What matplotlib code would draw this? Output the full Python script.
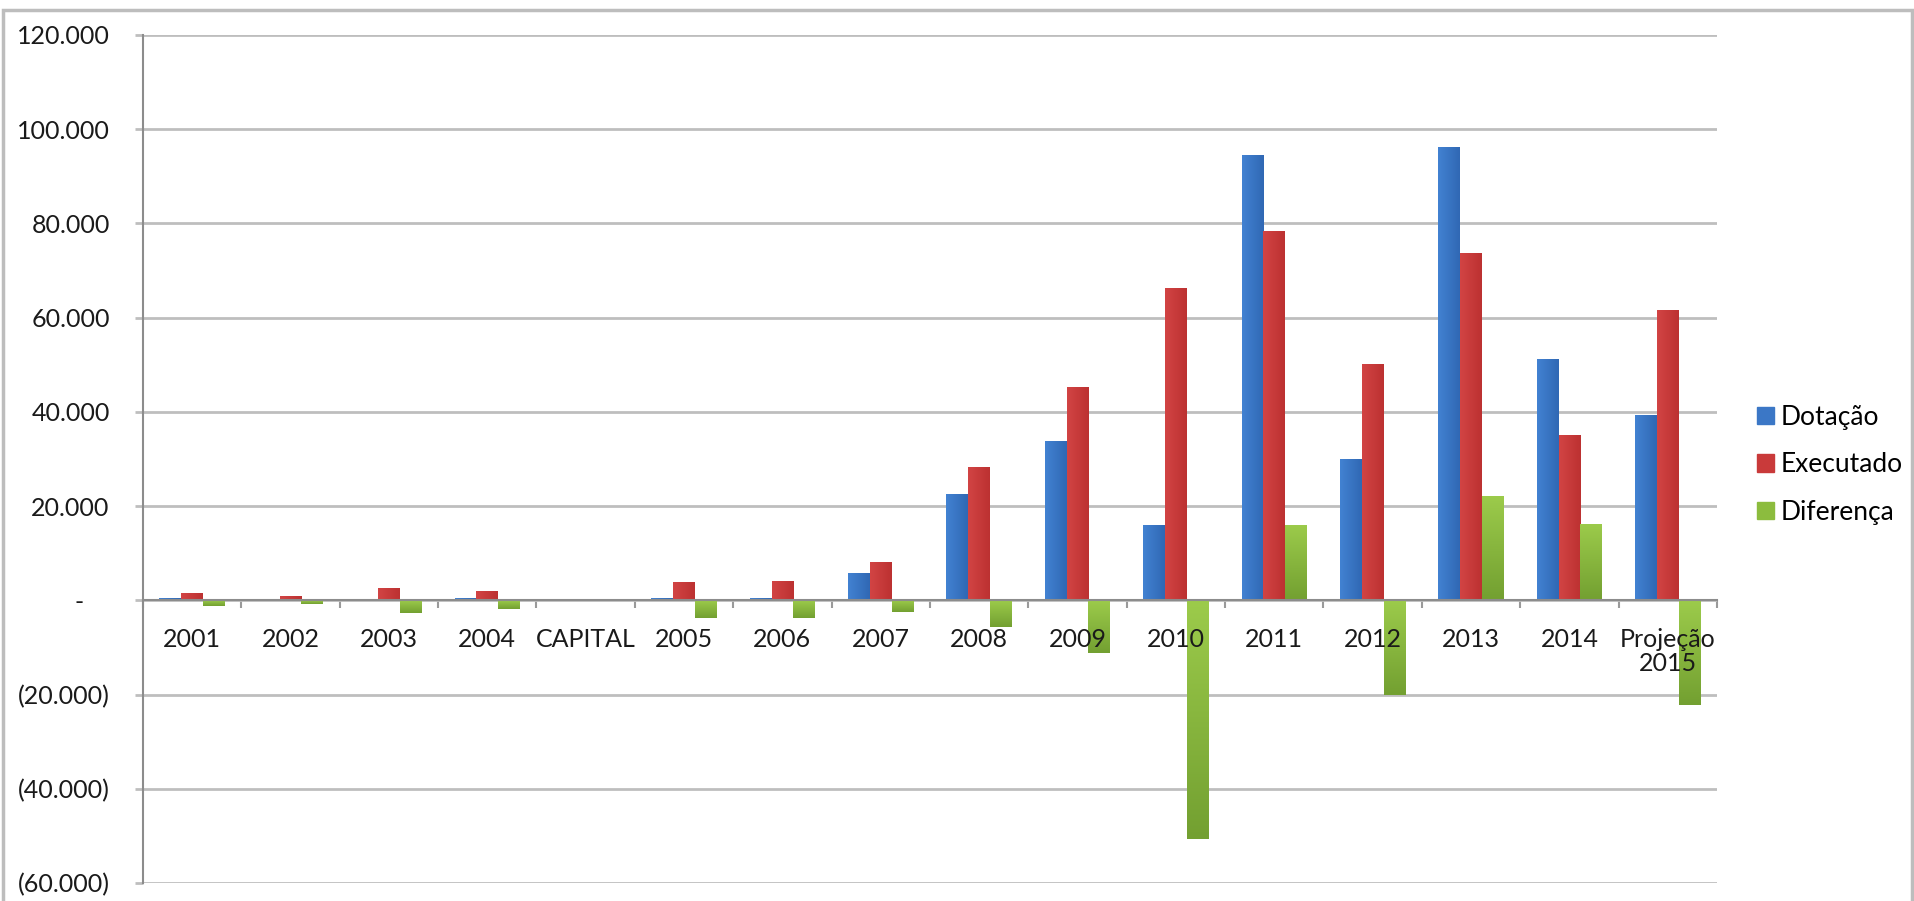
import numpy as np
import matplotlib.pyplot as plt
from matplotlib.patches import Rectangle, Patch
from matplotlib.colors import LinearSegmentedColormap
from matplotlib.transforms import offset_copy

plt.rcParams['font.family'] = ['Lato', 'DejaVu Sans']

categorias = ['2001', '2002', '2003', '2004', 'CAPITAL', '2005', '2006', '2007',
              '2008', '2009', '2010', '2011', '2012', '2013', '2014', 'Projeção\n2015']

dotacao = [400, 300, 300, 400, 0, 500, 600, 5700,
           22650, 33900, 15900, 94500, 30000, 96200, 51300, 39400]
executado = [1600, 1000, 2700, 2000, 0, 3900, 4100, 8200,
             28400, 45300, 66400, 78500, 50100, 73800, 35200, 61700]
diferenca = [-1200, -700, -2600, -1800, 0, -3700, -3700, -2500,
             -5600, -11200, -50600, 16000, -20100, 22200, 16200, -22200]

yticks = [-60000, -40000, -20000, 0, 20000, 40000, 60000, 80000, 100000, 120000]
ylabels = ['(60.000)', '(40.000)', '(20.000)', '-    ', '20.000', '40.000',
           '60.000', '80.000', '100.000', '120.000']

azul = '#3B77C6'
vermelho = '#C93A3A'
verde = '#8CBC3E'

fig = plt.figure(figsize=(19.15, 9.01), dpi=100)
ax = fig.add_axes([143/1915, 1 - 883/901, (1717 - 143)/1915, (883 - 35)/901])

x = np.arange(len(categorias)) + 0.5
w = 0.222
b1 = ax.bar(x - w, dotacao, w, color=azul, zorder=2)
b2 = ax.bar(x, executado, w, color=vermelho, zorder=2)
b3 = ax.bar(x + w, diferenca, w, color=verde, zorder=2)


# degrade leve nas barras, parecido com o estilo do Excel
def degrade(barras, c1, c2, vertical):
    cmap = LinearSegmentedColormap.from_list('g', [c1, c2])
    for b in barras:
        x0, y0 = b.get_x(), b.get_y()
        bw, bh = b.get_width(), b.get_height()
        if bh == 0:
            continue
        if vertical:
            g = np.linspace(0, 1, 100).reshape(-1, 1)
        else:
            g = np.linspace(0, 1, 100).reshape(1, -1)
        im = ax.imshow(g, cmap=cmap, aspect='auto', origin='upper', zorder=2.1,
                       extent=[x0, x0 + bw, min(y0, y0 + bh), max(y0, y0 + bh)])
        im.set_clip_path(b)


degrade(b1, '#4282D2', '#3068B4', False)
degrade(b2, '#D24444', '#BC3131', False)
degrade(b3, '#9CCB4B', '#73A031', True)

ax.set_xlim(0, len(categorias))
ax.set_ylim(-60000, 120000)
ax.set_yticks(yticks)
ax.set_yticklabels(ylabels)
ax.yaxis.grid(True, color='#BEBEBE', linewidth=2)
ax.set_axisbelow(True)

for s in ['top', 'right']:
    ax.spines[s].set_visible(False)
ax.spines['left'].set_color('#8C8C8C')
ax.spines['left'].set_linewidth(1.5)
ax.spines['bottom'].set_position(('data', 0))
ax.spines['bottom'].set_color('#8C8C8C')
ax.spines['bottom'].set_linewidth(1.5)
ax.spines['bottom'].set_zorder(3)

ax.set_xticks(np.arange(len(categorias) + 1))
ax.set_xticklabels([])
ax.tick_params(axis='x', which='major', direction='out', length=6, width=1.5, color='#9A9A9A')
ax.tick_params(axis='y', direction='out', length=6, width=2, color='#BEBEBE', pad=18,
               labelsize=18, labelcolor='#1A1A1A')

# rotulos das categorias por cima das barras
trans = offset_copy(ax.transData, fig=fig, y=-20, units='points')
for xi, cat in zip(x, categorias):
    ax.text(xi, 0, cat, transform=trans, ha='center', va='top', fontsize=18,
            color='#1A1A1A', zorder=4, linespacing=1.05)

handles = [Patch(color=azul, label='Dotação'),
           Patch(color=vermelho, label='Executado'),
           Patch(color=verde, label='Diferença')]
fig.legend(handles=handles, loc='upper left', bbox_to_anchor=(1733/1915, 1 - 381/901),
           frameon=False, fontsize=19, handlelength=0.65, handleheight=0.65,
           handletextpad=0.25, labelspacing=0.85)

fig.patches.append(Rectangle((0.0015, -0.05), 0.997, 1.05 - 10/901, transform=fig.transFigure,
                             fill=False, edgecolor='#BDBDBD', linewidth=2.5))

fig.savefig('out.png', dpi=100)
